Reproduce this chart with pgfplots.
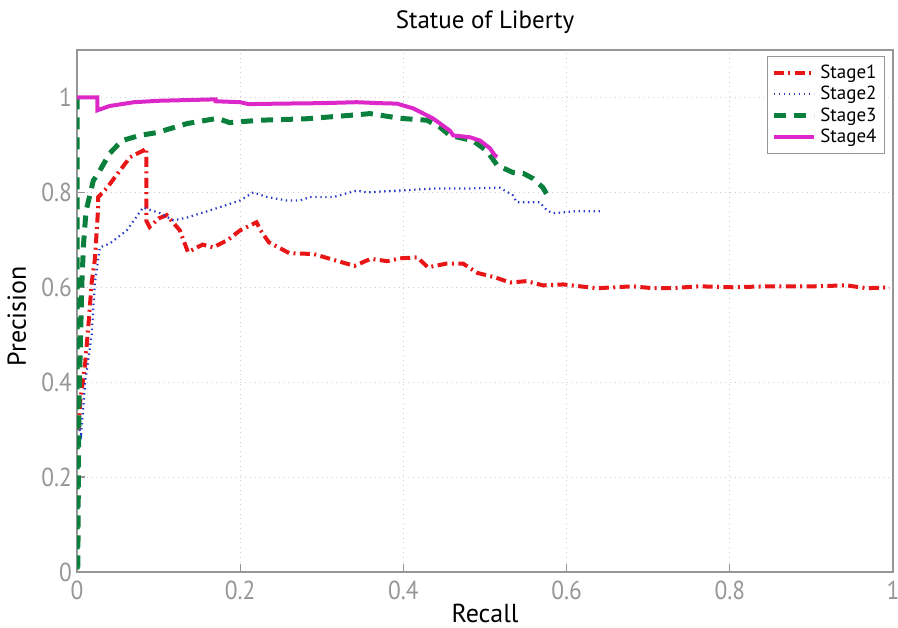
\documentclass[border=0pt]{standalone}
\usepackage{fontspec}
\setmainfont{PT Sans}
\newfontfamily\tickfont[FakeStretch=0.9]{PT Sans}
\usepackage{pgfplots}
\pgfplotsset{compat=1.18}
\definecolor{cred}{RGB}{232,22,22}
\definecolor{cblue}{RGB}{35,55,200}
\definecolor{cgreen}{RGB}{10,128,60}
\definecolor{cmag}{RGB}{220,40,200}
\definecolor{axgray}{RGB}{150,150,150}
\begin{document}
\begin{tikzpicture}
\begin{axis}[
  scale only axis,
  width=408pt, height=261pt,
  xmin=0, xmax=1, ymin=0, ymax=1.1,
  xtick={0,0.2,0.4,0.6,0.8,1},
  ytick={0,0.2,0.4,0.6,0.8,1},
  axis line style={axgray, line width=0.9pt},
  tick style={axgray, line width=0.6pt},
  major tick length=4pt,
  tick align=inside,
  xtick pos=bottom, ytick pos=left,
  grid=major,
  major grid style={dotted, line width=0.5pt, black!20},
  /pgf/number format/assume math mode=true,
  ticklabel style={font=\tickfont\fontsize{13}{13}\selectfont, text=axgray},
  xticklabel style={yshift=-1pt},
  yticklabel style={xshift=1pt},
  every axis title shift=0pt,
  title={Statue of Liberty},
  title style={font=\fontsize{12.5}{13}\selectfont, at={(axis description cs:0.5,1.042)}, anchor=base},
  xlabel={Recall},
  ylabel={Precision},
  xlabel style={font=\fontsize{13}{13}\selectfont, at={(axis description cs:0.5,-0.097)}, anchor=base},
  ylabel style={font=\fontsize{13}{13}\selectfont, at={(axis description cs:-0.0625,0.49)}, anchor=base},
  legend style={at={(1,1)}, anchor=north east, xshift=-4pt, yshift=-3pt,
    draw=axgray, line width=0.5pt, font=\fontsize{9.5}{10}\selectfont,
    row sep=-1.5pt, inner sep=2pt},
  legend cell align=left,
  legend image code/.code={\draw[#1] (0pt,0pt) -- (20pt,0pt);},
]
\coordinate (bl) at (rel axis cs:0,0);
\coordinate (tr) at (rel axis cs:1,1);

% Stage1
\addplot[cred, line width=2pt, dash pattern=on 5pt off 2.2pt on 1pt off 2.2pt] coordinates {
(0.002,0.30) (0.004,0.36) (0.01,0.44) (0.014,0.52) (0.018,0.61) (0.022,0.66) (0.026,0.77)
(0.026,0.79) (0.037,0.81) (0.05,0.84) (0.065,0.874) (0.081,0.888) (0.085,0.893)
(0.085,0.74) (0.089,0.727) (0.10,0.745) (0.11,0.752) (0.126,0.72) (0.136,0.674)
(0.154,0.69) (0.167,0.684) (0.185,0.70) (0.2,0.72) (0.22,0.737) (0.225,0.72)
(0.235,0.695) (0.26,0.672) (0.29,0.67) (0.32,0.655) (0.34,0.645) (0.36,0.66)
(0.38,0.655) (0.396,0.661) (0.417,0.663) (0.43,0.642) (0.453,0.65) (0.473,0.65)
(0.491,0.63) (0.512,0.621) (0.531,0.61) (0.551,0.613) (0.571,0.604) (0.596,0.606)
(0.637,0.598) (0.681,0.602) (0.706,0.598) (0.727,0.598) (0.763,0.602) (0.804,0.60)
(0.845,0.602) (0.902,0.602) (0.943,0.604) (0.968,0.598) (0.996,0.60)
};
\addlegendentry{Stage1}

% Stage2
\addplot[cblue, line width=1.1pt, dash pattern=on 0.7pt off 1.8pt] coordinates {
(0.003,0.30) (0.005,0.29) (0.01,0.40) (0.018,0.50) (0.022,0.61) (0.028,0.684)
(0.04,0.692) (0.061,0.72) (0.081,0.768) (0.102,0.756) (0.118,0.741) (0.135,0.747)
(0.163,0.762) (0.2,0.783) (0.216,0.80) (0.233,0.79) (0.257,0.783) (0.273,0.783)
(0.286,0.79) (0.314,0.79) (0.343,0.804) (0.355,0.80) (0.396,0.804) (0.436,0.808)
(0.478,0.808) (0.518,0.81) (0.534,0.794) (0.539,0.779) (0.567,0.779) (0.576,0.762)
(0.583,0.756) (0.61,0.76) (0.641,0.76)
};
\addlegendentry{Stage2}

% Stage3
\addplot[cgreen, line width=2.5pt, dash pattern=on 6pt off 4pt] coordinates {
(0,1.0) (0,0.0) (0.001,0.0) (0.002,0.29) (0.003,0.40) (0.006,0.61) (0.008,0.69)
(0.011,0.76) (0.02,0.825) (0.026,0.84) (0.04,0.882) (0.055,0.909) (0.077,0.92)
(0.098,0.926) (0.135,0.945) (0.172,0.956) (0.187,0.947) (0.224,0.952) (0.28,0.955)
(0.347,0.964) (0.359,0.966) (0.396,0.956) (0.429,0.952) (0.445,0.937) (0.457,0.92)
(0.485,0.909) (0.502,0.888) (0.515,0.857) (0.534,0.842) (0.547,0.84) (0.559,0.829)
(0.571,0.81) (0.58,0.783)
};
\addlegendentry{Stage3}

% Stage4
\addplot[cmag, line width=2pt] coordinates {
(0,1.0) (0.025,1.0) (0.025,0.973) (0.04,0.982) (0.07,0.99) (0.1,0.993) (0.17,0.996)
(0.17,0.992) (0.2,0.99) (0.21,0.986) (0.25,0.987) (0.3,0.988) (0.343,0.99)
(0.37,0.988) (0.392,0.987) (0.412,0.977) (0.436,0.956) (0.457,0.93) (0.461,0.92)
(0.482,0.916) (0.494,0.909) (0.506,0.893) (0.512,0.878) (0.515,0.875)
};
\addlegendentry{Stage4}
\end{axis}
\pgfresetboundingbox
\path (bl) ++(-38.5pt,-27.5pt) coordinate (p1);
\path (tr) ++(2.5pt,25pt) coordinate (p2);
\path[use as bounding box] (p1) rectangle (p2);
\end{tikzpicture}
\end{document}
